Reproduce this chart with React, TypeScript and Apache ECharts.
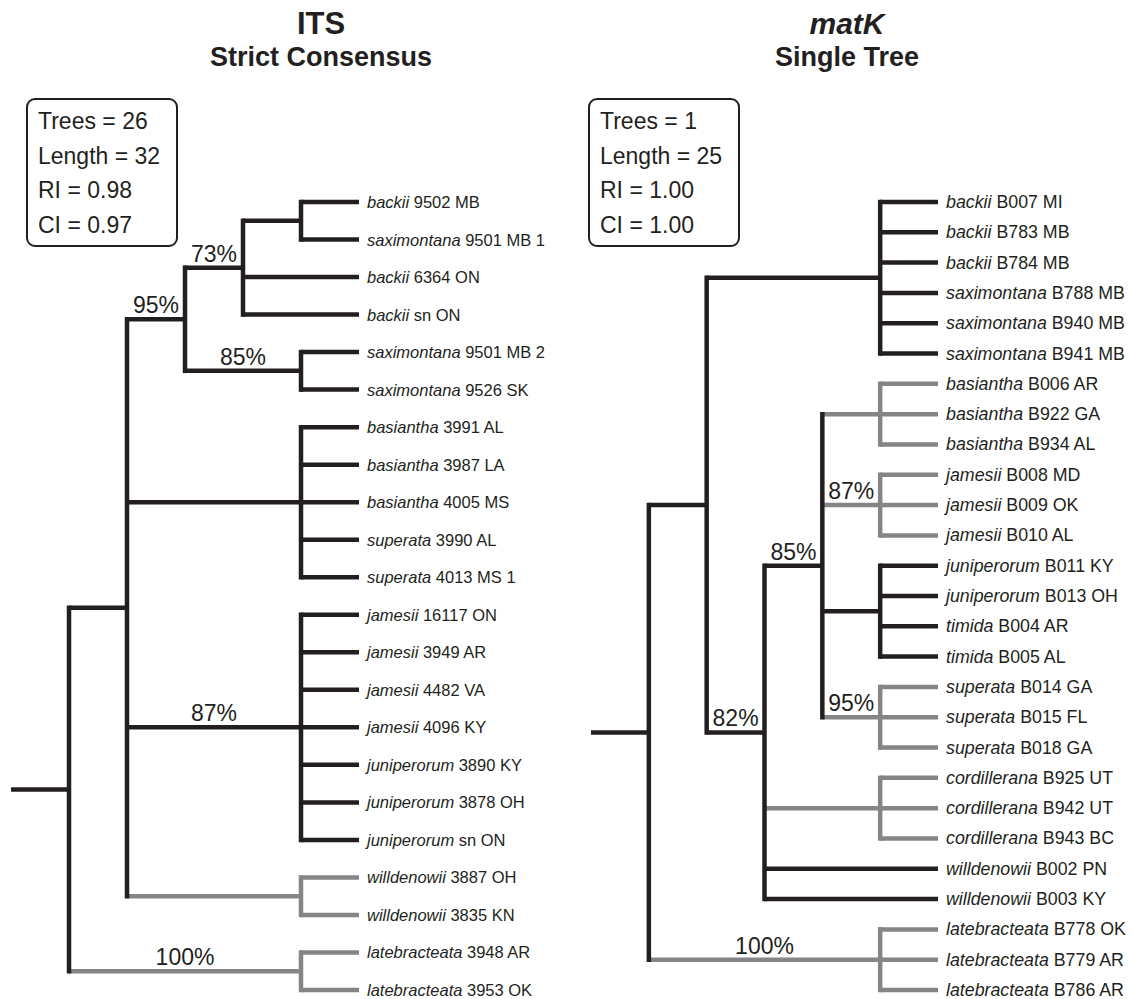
import React, { useEffect, useRef } from "react";
import * as echarts from "echarts";

// ---------- DATA ----------
const itsSpecies = [
  "backii", "saximontana", "backii", "backii", "saximontana", "saximontana",
  "basiantha", "basiantha", "basiantha", "superata", "superata",
  "jamesii", "jamesii", "jamesii", "jamesii",
  "juniperorum", "juniperorum", "juniperorum",
  "willdenowii", "willdenowii", "latebracteata", "latebracteata",
];
const itsVouchers = [
  "9502 MB", "9501 MB 1", "6364 ON", "sn ON", "9501 MB 2", "9526 SK",
  "3991 AL", "3987 LA", "4005 MS", "3990 AL", "4013 MS 1",
  "16117 ON", "3949 AR", "4482 VA", "4096 KY",
  "3890 KY", "3878 OH", "sn ON",
  "3887 OH", "3835 KN", "3948 AR", "3953 OK",
];

const matkSpecies = [
  "backii", "backii", "backii", "saximontana", "saximontana", "saximontana",
  "basiantha", "basiantha", "basiantha", "jamesii", "jamesii", "jamesii",
  "juniperorum", "juniperorum", "timida", "timida",
  "superata", "superata", "superata",
  "cordillerana", "cordillerana", "cordillerana",
  "willdenowii", "willdenowii",
  "latebracteata", "latebracteata", "latebracteata",
];
const matkVouchers = [
  "B007 MI", "B783 MB", "B784 MB", "B788 MB", "B940 MB", "B941 MB",
  "B006 AR", "B922 GA", "B934 AL", "B008 MD", "B009 OK", "B010 AL",
  "B011 KY", "B013 OH", "B004 AR", "B005 AL",
  "B014 GA", "B015 FL", "B018 GA",
  "B925 UT", "B942 UT", "B943 BC",
  "B002 PN", "B003 KY",
  "B778 OK", "B779 AR", "B786 AR",
];

type TreeNode = { depth: number; support?: string; gray?: boolean; children: (TreeNode | number)[] };

// ITS strict consensus (leaves are indices into the arrays above; leaf depth = 6)
const itsTree: TreeNode = {
  depth: 1,
  children: [
    {
      depth: 2,
      children: [
        {
          depth: 3, support: "95%",
          children: [
            { depth: 4, support: "73%", children: [{ depth: 5, children: [0, 1] }, 2, 3] },
            { depth: 5, support: "85%", children: [4, 5] },
          ],
        },
        { depth: 5, children: [6, 7, 8, 9, 10] },
        { depth: 5, support: "87%", children: [11, 12, 13, 14, 15, 16, 17] },
        { depth: 5, gray: true, children: [18, 19] },
      ],
    },
    { depth: 5, gray: true, support: "100%", children: [20, 21] },
  ],
};

// matK single tree
const matkTree: TreeNode = {
  depth: 1,
  children: [
    {
      depth: 2,
      children: [
        { depth: 5, children: [0, 1, 2, 3, 4, 5] },
        {
          depth: 3, support: "82%",
          children: [
            {
              depth: 4, support: "85%",
              children: [
                { depth: 5, gray: true, children: [6, 7, 8] },
                { depth: 5, gray: true, support: "87%", children: [9, 10, 11] },
                { depth: 5, children: [12, 13, 14, 15] },
                { depth: 5, gray: true, support: "95%", children: [16, 17, 18] },
              ],
            },
            { depth: 5, gray: true, children: [19, 20, 21] },
            22,
            23,
          ],
        },
      ],
    },
    { depth: 5, gray: true, support: "100%", children: [24, 25, 26] },
  ],
};

const itsStats = ["Trees = 26", "Length = 32", "RI = 0.98", "CI = 0.97"];
const matkStats = ["Trees = 1", "Length = 25", "RI = 1.00", "CI = 1.00"];

const LEAF_DEPTH = 6;
const BLACK = "#231f20";
const GRAY = "#858587";
const FONT = "'Liberation Sans', Arial, Helvetica, sans-serif";

// ---------- LAYOUT FROM TREE STRUCTURE ----------
function buildTree(root: TreeNode) {
  const hLines: number[][] = [];
  const vLines: number[][] = [];
  const supports: { value: number[]; text: string }[] = [];
  const walk = (n: TreeNode | number, parentDepth: number, parentGray: boolean): number => {
    if (typeof n === "number") {
      hLines.push([parentDepth, n, LEAF_DEPTH, n, parentGray ? 1 : 0]);
      return n;
    }
    const g = !!n.gray || parentGray;
    const ys = n.children.map((c) => walk(c, n.depth, g));
    const y = (ys[0] + ys[ys.length - 1]) / 2;
    hLines.push([parentDepth, y, n.depth, y, g ? 1 : 0]);
    vLines.push([n.depth, ys[0], n.depth, ys[ys.length - 1], g ? 1 : 0]);
    if (n.support) supports.push({ value: [(parentDepth + n.depth) / 2, y], text: n.support });
    return y;
  };
  walk(root, 0, false);
  return { hLines, vLines, supports };
}

function lineRenderer(cap: string) {
  return (_params: any, api: any) => {
    const a = api.coord([api.value(0), api.value(1)]);
    const b = api.coord([api.value(2), api.value(3)]);
    return {
      type: "line",
      shape: { x1: a[0], y1: a[1], x2: b[0], y2: b[1] },
      style: { stroke: api.value(4) === 1 ? GRAY : BLACK, lineWidth: 4.5, lineCap: cap },
    };
  };
}

function treeSeries(root: TreeNode, species: string[], vouchers: string[], idx: number, leafFont: number) {
  const { hLines, vLines, supports } = buildTree(root);
  const base = { type: "custom", coordinateSystem: "cartesian2d", xAxisIndex: idx, yAxisIndex: idx, clip: false, silent: true };
  return [
    { ...base, encode: { x: 0, y: 1 }, data: hLines, renderItem: lineRenderer("butt"), z: 2 },
    { ...base, encode: { x: 0, y: 1 }, data: vLines, renderItem: lineRenderer("square"), z: 3 },
    {
      ...base,
      z: 4,
      encode: { x: 0, y: 1 },
      data: supports.map((s) => s.value),
      renderItem: (params: any, api: any) => {
        const p = api.coord([api.value(0), api.value(1)]);
        return {
          type: "text",
          x: p[0],
          y: p[1] - 14,
          style: {
            text: supports[params.dataIndex].text,
            fontSize: 23, fontFamily: FONT, fill: BLACK,
            align: "center", verticalAlign: "middle",
          },
        };
      },
    },
    {
      ...base,
      z: 4,
      encode: { x: 0, y: 1 },
      data: species.map((_s, i) => [LEAF_DEPTH, i]),
      renderItem: (params: any, api: any) => {
        const p = api.coord([api.value(0), api.value(1)]);
        const i = params.dataIndex;
        return {
          type: "text",
          x: p[0] + 8,
          y: p[1],
          style: {
            text: `{i|${species[i]}}{n| ${vouchers[i]}}`,
            fontSize: leafFont, fontFamily: FONT, fill: BLACK,
            align: "left", verticalAlign: "middle",
            rich: {
              i: { fontStyle: "italic", fontSize: leafFont, fontFamily: FONT, fill: BLACK },
              n: { fontSize: leafFont, fontFamily: FONT, fill: BLACK },
            },
          },
        };
      },
    },
  ];
}

function statsBox(x: number, lines: string[]) {
  return {
    type: "group",
    children: [
      {
        type: "rect",
        shape: { x, y: 99, width: 150, height: 147, r: 8 },
        style: { fill: "#fff", stroke: BLACK, lineWidth: 2 },
      },
      ...lines.map((t, k) => ({
        type: "text",
        x: x + 11,
        y: 121 + k * 34.5,
        style: { text: t, fontSize: 23, fontFamily: FONT, fill: BLACK, align: "left", verticalAlign: "middle" },
      })),
    ],
  };
}

function titleText(x: number, y: number, text: string, size: number, italic = false) {
  return {
    type: "text",
    x,
    y,
    style: {
      text, fontSize: size, fontWeight: "bold", fontStyle: italic ? "italic" : "normal",
      fontFamily: FONT, fill: BLACK, align: "center", verticalAlign: "middle",
    },
  };
}

export default function App() {
  const ref = useRef<HTMLDivElement>(null);
  useEffect(() => {
    document.body.style.margin = "0";
    if (!ref.current) return;
    const chart = echarts.init(ref.current, undefined, { renderer: "svg" });
    chart.setOption({
      animation: false,
      backgroundColor: "#ffffff",
      grid: [
        { left: 11, top: 202, width: 348, height: 788 },
        { left: 591, top: 202, width: 347, height: 788 },
      ],
      xAxis: [
        { type: "value", gridIndex: 0, min: 0, max: LEAF_DEPTH, show: false },
        { type: "value", gridIndex: 1, min: 0, max: LEAF_DEPTH, show: false },
      ],
      yAxis: [
        { type: "value", gridIndex: 0, min: 0, max: itsSpecies.length - 1, inverse: true, show: false },
        { type: "value", gridIndex: 1, min: 0, max: matkSpecies.length - 1, inverse: true, show: false },
      ],
      graphic: [
        titleText(321, 23, "ITS", 31),
        titleText(321, 57, "Strict Consensus", 27),
        titleText(847, 23, "matK", 30, true),
        titleText(847, 57, "Single Tree", 27),
        statsBox(27, itsStats),
        statsBox(589, matkStats),
      ],
      series: [
        ...treeSeries(itsTree, itsSpecies, itsVouchers, 0, 16.5),
        ...treeSeries(matkTree, matkSpecies, matkVouchers, 1, 17.8),
      ],
    });
    return () => chart.dispose();
  }, []);
  return <div ref={ref} style={{ width: 1131, height: 999 }} />;
}
